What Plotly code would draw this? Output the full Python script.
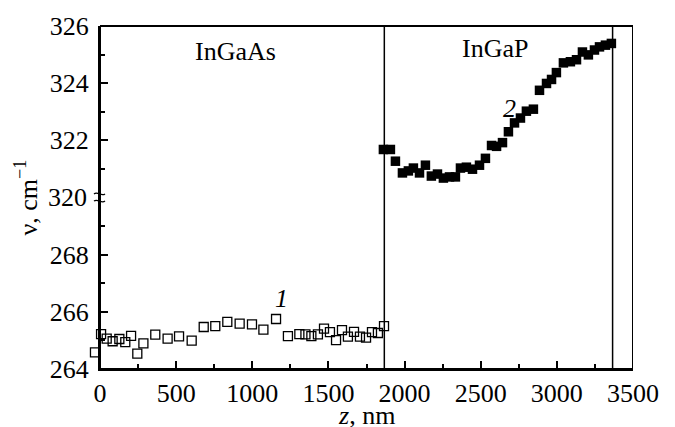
import plotly.graph_objects as go

# Series 1: InGaAs (open squares)
z1 = [-33, 7, 44, 83, 127, 166, 204, 245, 285, 363, 444, 519, 602, 681, 757, 836,
      917, 998, 1073, 1156, 1234, 1309, 1349, 1388, 1431, 1471, 1510, 1550, 1589,
      1628, 1668, 1707, 1747, 1786, 1825, 1865]
nu1 = [264.58, 265.22, 265.06, 264.97, 265.05, 264.94, 265.16, 264.54, 264.90, 265.20,
       265.06, 265.14, 264.99, 265.47, 265.50, 265.65, 265.59, 265.56, 265.38, 265.75,
       265.15, 265.22, 265.21, 265.15, 265.21, 265.41, 265.29, 265.01, 265.36, 265.13,
       265.30, 265.13, 265.10, 265.29, 265.26, 265.50]

# Series 2: InGaP (filled squares)
z2 = [1861, 1907, 1940, 1986, 2025, 2058, 2098, 2137, 2176, 2216, 2255, 2295, 2334,
      2367, 2406, 2446, 2492, 2531, 2571, 2604, 2643, 2682, 2722, 2761, 2800, 2846,
      2886, 2932, 2965, 2997, 3043, 3089, 3129, 3168, 3207, 3247, 3280, 3319, 3358]
nu2 = [321.68, 321.68, 321.27, 320.86, 320.93, 321.03, 320.86, 321.13, 320.75, 320.82,
       320.68, 320.72, 320.72, 321.03, 321.06, 320.99, 321.13, 321.37, 321.82, 321.79,
       321.92, 322.30, 322.61, 322.78, 323.02, 323.09, 323.75, 323.99, 324.13, 324.37,
       324.71, 324.75, 324.82, 325.09, 324.99, 325.16, 325.27, 325.33, 325.39]

interfaces = [1867, 3366]

x_ticks = [0, 500, 1000, 1500, 2000, 2500, 3000, 3500]
y_low_ticks = [264, 266, 268]
y_high_ticks = [322, 324, 326]
x_range = [0, 3500]

FONT = "Liberation Serif"
fs = 26

# layout geometry (pixels)
W, H = 675, 427
ML, MR, MT, MB = 85, 42, 21, 58
PAD = 15                      # room left of the axis for points slightly below z = 0
pw = W - ML - MR              # paper width
ph = H - MT - MB
dom0 = PAD / pw
axis_w = pw - PAD
x2_left = x_range[0] - PAD / axis_w * (x_range[1] - x_range[0])


def px(xpix):
    return (xpix - ML) / pw


def py(ypix):
    return (H - MB - ypix) / ph


fig = go.Figure()
fig.add_trace(go.Scatter(
    x=z1, y=nu1, mode="markers", xaxis="x2", yaxis="y", cliponaxis=False,
    marker=dict(symbol="square-open", size=9, color="black", line=dict(width=1.3, color="black")),
    showlegend=False))
fig.add_trace(go.Scatter(
    x=z2, y=nu2, mode="markers", xaxis="x", yaxis="y2", cliponaxis=False,
    marker=dict(symbol="square", size=9.5, color="black"),
    showlegend=False))

axis_common = dict(
    showgrid=False, zeroline=False, showline=True, linewidth=2, linecolor="black",
    ticks="inside", ticklen=8, tickwidth=1.5, tickcolor="black",
    tickfont=dict(family=FONT, size=fs, color="black"),
)

fig.update_layout(
    width=W, height=H,
    margin=dict(l=ML, r=MR, t=MT, b=MB),
    paper_bgcolor="white", plot_bgcolor="white",
    xaxis=dict(domain=[dom0, 1], range=x_range, tickmode="array", tickvals=x_ticks,
               ticktext=[str(v) for v in x_ticks], anchor="y",
               minor=dict(ticks="inside", ticklen=5, tickwidth=1.5, tickcolor="black",
                          tickmode="linear", tick0=0, dtick=250),
               **axis_common),
    xaxis2=dict(domain=[0, 1], range=[x2_left, x_range[1]], visible=False,
                anchor="y", showgrid=False, zeroline=False),
    yaxis=dict(domain=[0, 0.5], range=[264, 270], tickmode="array", anchor="x",
               tickvals=y_low_ticks, ticktext=[str(v) for v in y_low_ticks],
               ticklabelstandoff=4,
               minor=dict(ticks="inside", ticklen=5, tickwidth=1.5, tickcolor="black",
                          tickmode="array", tickvals=[265, 267, 269]),
               **axis_common),
    yaxis2=dict(domain=[0.5, 1], range=[320, 326], tickmode="array", anchor="x",
                tickvals=y_high_ticks, ticktext=[str(v) for v in y_high_ticks],
                ticklabelstandoff=4,
                minor=dict(ticks="inside", ticklen=5, tickwidth=1.5, tickcolor="black",
                           tickmode="array", tickvals=[321, 323, 325]),
                **axis_common),
)

shapes = [dict(type="rect", xref="x", yref="paper", x0=x_range[0], x1=x_range[1], y0=0, y1=1,
               line=dict(color="black", width=2), layer="above")]
for xi in interfaces:
    shapes.append(dict(type="line", xref="x", yref="paper", x0=xi, x1=xi, y0=0, y1=1,
                       line=dict(color="black", width=1.5)))
# axis-break squiggles
for dy in (3.6, -3.6):
    y0 = py(195 - dy)
    x0, x1 = px(94), px(105)
    w = x1 - x0
    h = 3 / ph
    shapes.append(dict(type="path", xref="paper", yref="paper",
                       path=f"M {x0},{y0} C {x0 + w/3},{y0 + h} {x0 + 2*w/3},{y0 - h} {x1},{y0}",
                       line=dict(color="black", width=1.3)))
fig.update_layout(shapes=shapes)

ann_font = dict(family=FONT, size=26, color="black")
common = dict(showarrow=False, xanchor="center", yanchor="middle")
fig.update_layout(annotations=[
    dict(text="320", xref="paper", yref="paper", x=px(89), y=0.5, xanchor="right",
         yanchor="middle", showarrow=False, font=dict(family=FONT, size=fs, color="black")),
    dict(text="InGaAs", xref="x", yref="y2", x=890, y=325.1, font=ann_font, **common),
    dict(text="InGaP", xref="x", yref="y2", x=2597, y=325.2, font=ann_font, **common),
    dict(text="<i>2</i>", xref="x", yref="y2", x=2686, y=323.1, font=ann_font, **common),
    dict(text="<i>1</i>", xref="x", yref="y", x=1193, y=266.45, font=ann_font, **common),
    dict(text="ν, cm<sup>−1</sup>", xref="paper", yref="paper", x=px(27), y=py(195),
         textangle=-90, font=ann_font, **common),
    dict(text="<i>z</i>, nm", xref="paper", yref="paper", x=px(366), y=py(416),
         font=ann_font, **common),
])

fig.write_html("out.html")
